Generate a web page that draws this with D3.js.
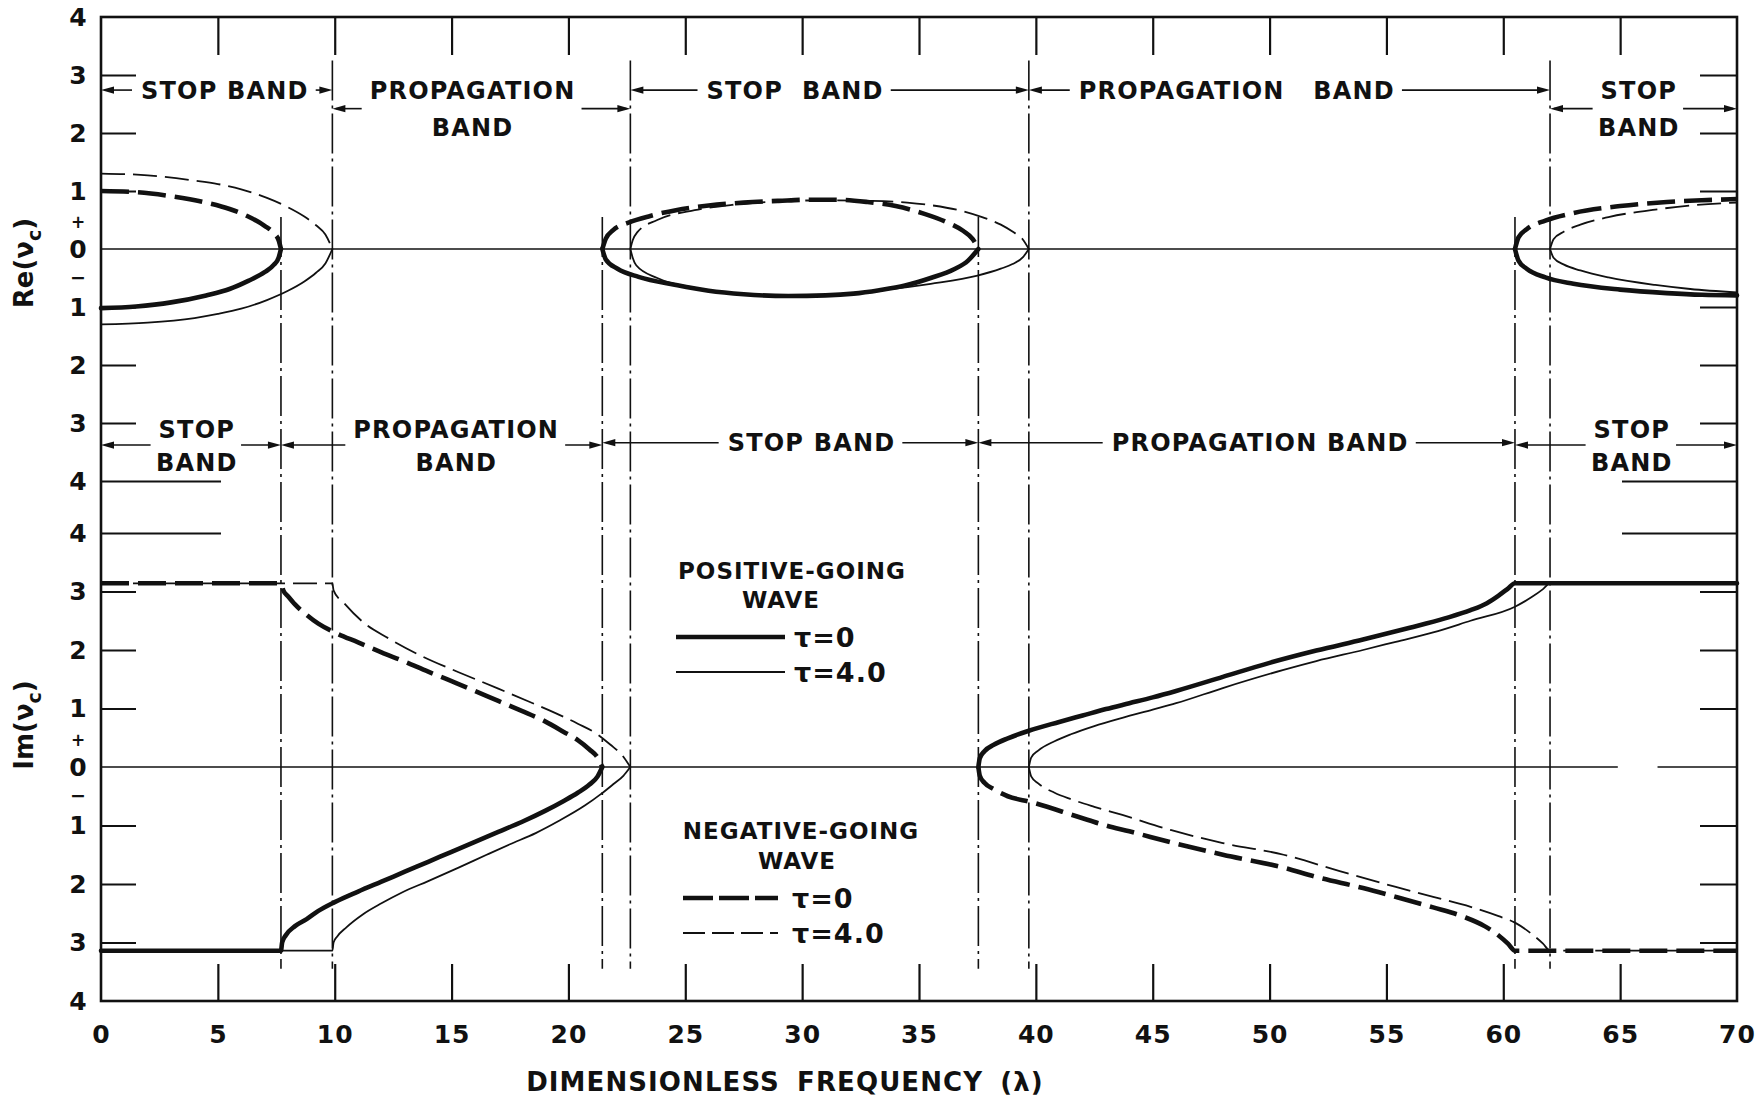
<!DOCTYPE html>
<html><head><meta charset="utf-8">
<script src="https://cdn.jsdelivr.net/npm/d3@7"></script>
<style>
html,body{margin:0;padding:0;background:#fff;}
svg{display:block;background:#fff;}
text{font-family:"DejaVu Sans",sans-serif;font-weight:bold;fill:#111;}
</style></head><body>
<svg id="chart" width="1758" height="1099"></svg>
<script>
// ================= DATA =================
const xTickValues = [0,5,10,15,20,25,30,35,40,45,50,55,60,65,70];
const yTickValues = [4,3,2,1,0,-1,-2,-3,-4];

// λ where each curve reaches zero (band edges)
const edgesTau0 = [7.7, 21.45, 37.54, 60.5];
const edgesTau4 = [9.9, 22.65, 39.7, 62.0];

// ---- Re(νc) ----
// negative-going wave, τ = 0 (thick dashed)
const reNegTau0 = [
  [[0,1.0],[1.5,0.98],[3,0.91],[4.5,0.8],[5.5,0.69],[6.3,0.56],[7.0,0.4],[7.4,0.27],[7.6,0.15],[7.7,0]],
  [[21.45,0],[21.6,0.18],[21.9,0.32],[22.6,0.46],[23.5,0.57],[24.6,0.67],[26,0.75],[27.5,0.8],[29,0.83],[30.3,0.85],[31.5,0.85],[32.8,0.81],[34,0.74],[35.2,0.61],[36.2,0.46],[36.9,0.31],[37.3,0.17],[37.54,0]],
  [[60.5,0],[60.65,0.2],[61.0,0.34],[61.8,0.49],[63,0.62],[65,0.74],[67,0.81],[68.5,0.84],[70,0.86]]
];
// positive-going wave, τ = 0 (thick solid)
const rePosTau0 = [
  [[0,-1.02],[1.5,-0.99],[3,-0.92],[4.5,-0.8],[5.5,-0.69],[6.3,-0.55],[7.0,-0.4],[7.4,-0.27],[7.6,-0.15],[7.7,0]],
  [[21.45,0],[21.6,-0.18],[22.1,-0.34],[23,-0.48],[24.6,-0.62],[26,-0.72],[27.5,-0.78],[29.4,-0.81],[31,-0.8],[32.2,-0.77],[33.3,-0.71],[34.4,-0.63],[35.5,-0.5],[36.5,-0.35],[37.1,-0.2],[37.54,0]],
  [[60.5,0],[60.65,-0.2],[61.0,-0.34],[61.8,-0.49],[63,-0.6],[65,-0.7],[67,-0.76],[68.5,-0.79],[70,-0.8]]
];
// negative-going wave, τ = 4.0 (thin dashed)
const reNegTau4 = [
  [[0,1.3],[2,1.27],[4,1.18],[5,1.12],[6,1.03],[7.1,0.88],[8,0.72],[8.7,0.56],[9.2,0.41],[9.6,0.25],[9.9,0]],
  [[22.65,0],[22.75,0.15],[22.95,0.29],[23.8,0.5],[25.4,0.67],[27,0.76],[29,0.82],[31,0.84],[33,0.83],[34.5,0.8],[35.6,0.75],[36.8,0.66],[37.7,0.55],[38.5,0.42],[39.0,0.3],[39.45,0.16],[39.7,0]],
  [[62,0],[62.15,0.17],[62.6,0.3],[63.3,0.42],[64.5,0.55],[66.5,0.68],[68,0.75],[70,0.8]]
];
// positive-going wave, τ = 4.0 (thin solid)
const rePosTau4 = [
  [[0,-1.3],[2,-1.27],[4,-1.19],[5,-1.12],[6,-1.03],[7.1,-0.88],[8,-0.72],[8.7,-0.56],[9.2,-0.41],[9.6,-0.25],[9.9,0]],
  [[22.65,0],[22.75,-0.15],[22.9,-0.28],[23.8,-0.5],[25.4,-0.67],[27,-0.76],[29,-0.8],[31,-0.79],[33.6,-0.7],[35.5,-0.6],[37.5,-0.46],[38.5,-0.34],[39.0,-0.26],[39.45,-0.14],[39.7,0]],
  [[62,0],[62.15,-0.15],[62.6,-0.27],[63.3,-0.37],[64.5,-0.49],[66.5,-0.62],[68,-0.69],[70,-0.75]]
];

// ---- Im(νc) ----
const imPosTau0 = [
  [[0,-3.14],[7.7,-3.14],[7.75,-3.0],[7.9,-2.88],[8.3,-2.72],[8.8,-2.6],[9.3,-2.46],[10,-2.31],[11,-2.13],[12,-1.96],[13,-1.79],[14,-1.62],[15,-1.45],[16,-1.28],[17,-1.11],[18,-0.94],[19,-0.75],[19.8,-0.58],[20.4,-0.44],[20.9,-0.3],[21.25,-0.16],[21.45,0]],
  [[37.54,0],[37.6,0.15],[37.8,0.27],[38.2,0.38],[38.8,0.49],[39.7,0.62],[41,0.77],[42,0.88],[43,0.99],[44,1.09],[45,1.19],[46,1.3],[48,1.54],[50,1.78],[52,1.99],[54,2.18],[56,2.38],[57.5,2.54],[58.6,2.68],[59.3,2.8],[59.8,2.93],[60.2,3.05],[60.5,3.14],[70,3.14]]
];
const imNegTau0 = [
  [[0,3.14],[7.7,3.14],[7.8,3.02],[8.0,2.92],[8.3,2.78],[8.8,2.6],[9.3,2.45],[10,2.3],[11,2.13],[12,1.96],[13,1.8],[14,1.63],[15,1.47],[16,1.3],[17,1.13],[18,0.96],[19,0.78],[19.8,0.6],[20.4,0.46],[20.9,0.3],[21.25,0.16],[21.45,0]],
  [[37.54,0],[37.6,-0.15],[37.8,-0.27],[38.2,-0.38],[38.8,-0.5],[39.8,-0.6],[41.8,-0.85],[43,-1.0],[44,-1.1],[45.9,-1.3],[48,-1.5],[50.6,-1.72],[52,-1.88],[54,-2.07],[55.4,-2.22],[57,-2.4],[58.3,-2.56],[59.2,-2.72],[59.8,-2.88],[60.2,-3.02],[60.5,-3.14],[70,-3.14]]
];
const imPosTau4 = [
  [[0,-3.14],[9.9,-3.14],[9.95,-3.0],[10.1,-2.9],[10.5,-2.74],[11.2,-2.52],[12,-2.33],[12.9,-2.14],[14,-1.95],[15.3,-1.72],[16.5,-1.5],[17.5,-1.32],[18.6,-1.13],[19.6,-0.92],[20.7,-0.66],[21.4,-0.46],[21.9,-0.3],[22.35,-0.15],[22.65,0]],
  [[39.7,0],[39.8,0.16],[40.1,0.28],[40.8,0.44],[41.5,0.56],[42.5,0.7],[43.7,0.84],[45,0.98],[46,1.09],[48,1.35],[50.6,1.66],[52,1.81],[54,2.0],[55.4,2.14],[57,2.3],[58.6,2.5],[60.5,2.74],[61.2,2.9],[61.7,3.04],[62,3.14],[70,3.14]]
];
const imNegTau4 = [
  [[0,3.14],[9.9,3.14],[9.95,3.02],[10.4,2.8],[11.2,2.48],[12.3,2.2],[13.7,1.9],[15.3,1.62],[17,1.34],[18.3,1.12],[19.4,0.93],[20.4,0.74],[21.2,0.57],[21.8,0.38],[22.3,0.2],[22.65,0]],
  [[39.7,0],[39.8,-0.16],[40.1,-0.28],[40.8,-0.44],[41.5,-0.55],[42.5,-0.68],[43.7,-0.82],[45.8,-1.08],[48,-1.3],[50.6,-1.5],[53,-1.78],[55.4,-2.05],[57,-2.22],[58.6,-2.39],[59.8,-2.55],[60.5,-2.66],[61.2,-2.85],[61.7,-3.02],[62,-3.14],[70,-3.14]]
];

// zero reference lines (λ spans)
const reZeroSpans = [[0,70]];
const imZeroSpans = [[0,64.9],[66.6,70]];

// band annotations (λ range, label centre λ)
const reBandLabels = [
  {lines:["STOP BAND"], from:0, to:9.9, at:5.3},
  {lines:["PROPAGATION","BAND"], from:9.9, to:22.65, at:15.9},
  {lines:["STOP  BAND"], from:22.65, to:39.7, at:29.7},
  {lines:["PROPAGATION   BAND"], from:39.7, to:62.0, at:48.6},
  {lines:["STOP","BAND"], from:62.0, to:70, at:65.8}
];
const imBandLabels = [
  {lines:["STOP","BAND"], from:0, to:7.7, at:4.1},
  {lines:["PROPAGATION","BAND"], from:7.7, to:21.45, at:15.2},
  {lines:["STOP BAND"], from:21.45, to:37.54, at:30.4},
  {lines:["PROPAGATION BAND"], from:37.54, to:60.5, at:49.6},
  {lines:["STOP","BAND"], from:60.5, to:70, at:65.5}
];

// ================= DRAWING =================
const svg = d3.select("#chart");
const INK = "#111";
const x   = d3.scaleLinear().domain([0,70]).range([101,1737]);
const yRe = d3.scaleLinear().domain([-4,4]).range([481,17]);
const yIm = d3.scaleLinear().domain([-4,4]).range([1001,533]);

// vertical band-edge lines (dash-dot)
const vg = svg.append("g").attr("stroke",INK).attr("stroke-width",1.6).attr("fill","none")
  .attr("stroke-dasharray","40,5,3,5");
edgesTau0.forEach(e => vg.append("line").attr("x1",x(e)).attr("x2",x(e)).attr("y1",yRe(0.55)).attr("y2",yIm(-3.45)));
edgesTau4.forEach(e => vg.append("line").attr("x1",x(e)).attr("x2",x(e)).attr("y1",yRe(3.25)).attr("y2",yIm(-3.45)));

// zero lines
const zg = svg.append("g").attr("stroke",INK).attr("stroke-width",1.6);
reZeroSpans.forEach(s => zg.append("line").attr("x1",x(s[0])).attr("x2",x(s[1])).attr("y1",yRe(0)).attr("y2",yRe(0)));
imZeroSpans.forEach(s => zg.append("line").attr("x1",x(s[0])).attr("x2",x(s[1])).attr("y1",yIm(0)).attr("y2",yIm(0)));

// axes
function styleAxis(g){ g.attr("font-family",null).attr("font-size",null).attr("color",INK); g.select(".domain").remove(); g.selectAll(".tick line").attr("stroke-width",2.2); }

const gb = svg.append("g").attr("transform",`translate(0,${yIm(-4)})`)
  .call(d3.axisBottom(x).tickValues(xTickValues).tickSizeInner(-37).tickSizeOuter(0).tickPadding(24));
styleAxis(gb);
gb.selectAll(".tick line").filter(d => d===0 || d===70).remove();
gb.selectAll(".tick text").attr("font-size",25).style("letter-spacing","1px");

const gt = svg.append("g").attr("transform",`translate(0,${yRe(4)})`)
  .call(d3.axisTop(x).tickValues(xTickValues.filter(d => d>0 && d<70)).tickSizeInner(-38).tickSizeOuter(0).tickFormat(()=>""));
styleAxis(gt);

function leftAxis(scale, longVal, skipVals){
  const g = svg.append("g").attr("transform",`translate(${x(0)},0)`)
    .call(d3.axisLeft(scale).tickValues(yTickValues).tickSizeInner(-35).tickSizeOuter(0).tickPadding(23).tickFormat(d => Math.abs(d)));
  styleAxis(g);
  g.selectAll(".tick line").filter(d => skipVals.includes(d)).remove();
  g.selectAll(".tick line").filter(d => d===longVal).attr("x2",120);
  g.selectAll(".tick text").attr("font-size",25).attr("text-anchor","middle").attr("x",-23);
  return g;
}
leftAxis(yRe, -4, [4,0]);
leftAxis(yIm, 4, [0,-4]);

function rightAxis(scale, longVal, skipVals){
  const g = svg.append("g").attr("transform",`translate(${x(70)},0)`)
    .call(d3.axisRight(scale).tickValues(yTickValues).tickSizeInner(-37).tickSizeOuter(0).tickFormat(()=>""));
  styleAxis(g);
  g.selectAll(".tick line").filter(d => skipVals.includes(d)).remove();
  g.selectAll(".tick line").filter(d => d===longVal).attr("x2",-115);
}
rightAxis(yRe, -4, [4,0]);
rightAxis(yIm, 4, [0,-4]);

// + / − signs beside the zeros
[yRe, yIm].forEach(s => {
  svg.append("text").attr("x",78).attr("y",s(0)-27+6).attr("text-anchor","middle").attr("font-size",17).text("+");
  svg.append("text").attr("x",78).attr("y",s(0)+29+6).attr("text-anchor","middle").attr("font-size",19)
    .style("letter-spacing","0px").text("−");
});

// frame
svg.append("rect").attr("x",x(0)).attr("y",yRe(4)).attr("width",x(70)-x(0)).attr("height",yIm(-4)-yRe(4))
  .attr("fill","none").attr("stroke",INK).attr("stroke-width",2.6);

// curves
const THICK = 4.6, THIN = 1.8;
function drawSeries(segs, ys, width, dash){
  const line = d3.line().x(d => x(d[0])).y(d => ys(d[1])).curve(d3.curveMonotoneX);
  svg.append("g").selectAll("path").data(segs).join("path")
    .attr("d", line).attr("fill","none").attr("stroke",INK)
    .attr("stroke-width",width).attr("stroke-dasharray",dash)
    .attr("stroke-linejoin","round").attr("stroke-linecap", dash ? "butt" : "round");
}
drawSeries(reNegTau4, yRe, THIN, "24,8");
drawSeries(rePosTau4, yRe, THIN, null);
drawSeries(imNegTau4, yIm, THIN, "24,8");
drawSeries(imPosTau4, yIm, THIN, null);
drawSeries(reNegTau0, yRe, THICK, "28,9");
drawSeries(rePosTau0, yRe, THICK, null);
drawSeries(imNegTau0, yIm, THICK, "28,9");
drawSeries(imPosTau0, yIm, THICK, null);

// arrows + band labels
function arrow(xFrom, xTo, y){
  const s = Math.sign(xTo - xFrom);
  svg.append("line").attr("x1",xFrom).attr("x2",xTo - s*4).attr("y1",y).attr("y2",y).attr("stroke",INK).attr("stroke-width",1.6);
  svg.append("path").attr("d",`M${xTo},${y} L${xTo - s*13},${y-3.6} L${xTo - s*13},${y+3.6} Z`).attr("fill",INK);
}
const FS = 24, CAP = 0.729*FS;
function bandText(cx, cy, str){
  return svg.append("text").attr("x",cx).attr("y",cy + CAP/2).attr("text-anchor","middle")
    .attr("font-size",FS).style("letter-spacing","1.2px").style("white-space","pre").text(str);
}
function drawBands(labels, rowY, twoArrowY, l1, l2){
  labels.forEach(b => {
    const cx = x(b.at);
    if (b.lines.length === 1){
      const w = bandText(cx, rowY, b.lines[0]).node().getComputedTextLength();
      arrow(cx - w/2 - 9, x(b.from), rowY);
      arrow(cx + w/2 + 7, x(b.to), rowY);
    } else {
      const w1 = bandText(cx, l1, b.lines[0]).node().getComputedTextLength();
      bandText(cx, l2, b.lines[1]);
      arrow(cx - w1/2 - 8, x(b.from), twoArrowY);
      arrow(cx + w1/2 + 6, x(b.to), twoArrowY);
    }
  });
}
drawBands(reBandLabels, yRe(2.74), yRe(2.42), yRe(2.74), yRe(2.1));
drawBands(imBandLabels, yRe(-3.34), yRe(-3.38), yRe(-3.1), yRe(-3.67));

// legend
const lg = svg.append("g");
function legText(cx, cy, str, anchor, fs){
  lg.append("text").attr("x",cx).attr("y",cy + 0.729*fs/2).attr("text-anchor",anchor).attr("font-size",fs)
    .style("letter-spacing","1px").text(str);
}
function legLine(x1, x2, y, w, dash){
  lg.append("line").attr("x1",x1).attr("x2",x2).attr("y1",y).attr("y2",y).attr("stroke",INK)
    .attr("stroke-width",w).attr("stroke-dasharray",dash);
}
legText(792, 571, "POSITIVE-GOING", "middle", 23);
legText(781, 600, "WAVE", "middle", 23);
legLine(676, 785, 637, THICK, null);
legText(794, 637, "τ=0", "start", 27);
legLine(676, 785, 672, THIN, null);
legText(794, 672, "τ=4.0", "start", 27);
legText(801, 831, "NEGATIVE-GOING", "middle", 23);
legText(797, 861, "WAVE", "middle", 23);
legLine(683, 778, 898, THICK, "30,6");
legText(792, 898, "τ=0", "start", 27);
legLine(683, 778, 933, THIN, "22,7");
legText(792, 933, "τ=4.0", "start", 27);

// axis titles
svg.append("text").attr("x",785).attr("y",1082 + 0.729*26/2).attr("text-anchor","middle").attr("font-size",26)
  .style("letter-spacing","1.1px").style("word-spacing","7px").text("DIMENSIONLESS FREQUENCY (λ)");

function yTitle(cy, main){
  const t = svg.append("text").attr("transform",`translate(24,${cy}) rotate(-90)`)
    .attr("x",0).attr("y",9).attr("text-anchor","middle").attr("font-size",26);
  t.append("tspan").text(main + "(ν");
  t.append("tspan").attr("font-size",19).attr("dy",8).text("c");
  t.append("tspan").attr("dy",-8).text(")");
}
yTitle(263, "Re");
yTitle(725, "Im");
</script>
</body></html>
